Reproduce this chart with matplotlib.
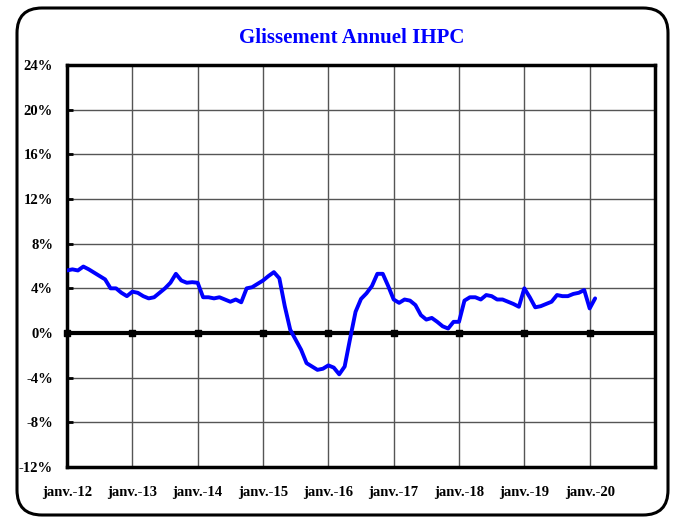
import numpy as np
import matplotlib
matplotlib.use('Agg')
import matplotlib.pyplot as plt
from matplotlib.patches import FancyBboxPatch

# Glissement annuel IHPC, monthly, janv. 2012 -> fevr. 2020 (%)
ihpc_2012 = [5.6, 5.7, 5.6, 5.95, 5.7, 5.4, 5.1, 4.8, 4.0, 4.0, 3.6, 3.3]
ihpc_2013 = [3.7, 3.6, 3.3, 3.1, 3.2, 3.6, 4.0, 4.5, 5.3, 4.7, 4.5, 4.55]
ihpc_2014 = [4.5, 3.2, 3.2, 3.1, 3.2, 3.0, 2.8, 3.0, 2.75, 4.0, 4.1, 4.4]
ihpc_2015 = [4.7, 5.1, 5.45, 4.9, 2.4, 0.3, -0.6, -1.5, -2.7, -3.0, -3.3, -3.2]
ihpc_2016 = [-2.9, -3.1, -3.7, -3.0, -0.5, 1.9, 3.05, 3.55, 4.2, 5.3, 5.3, 4.2]
ihpc_2017 = [3.0, 2.7, 3.0, 2.9, 2.5, 1.6, 1.2, 1.35, 1.0, 0.6, 0.4, 1.0]
ihpc_2018 = [1.0, 2.9, 3.2, 3.2, 3.0, 3.4, 3.3, 3.0, 3.0, 2.8, 2.6, 2.35]
ihpc_2019 = [4.0, 3.2, 2.3, 2.4, 2.6, 2.8, 3.4, 3.3, 3.3, 3.5, 3.6, 3.85]
ihpc_2020 = [2.2, 3.1]

year_labels = ['janv.-12', 'janv.-13', 'janv.-14', 'janv.-15', 'janv.-16',
               'janv.-17', 'janv.-18', 'janv.-19', 'janv.-20']
y_ticks = [-12, -8, -4, 0, 4, 8, 12, 16, 20, 24]

values = np.array(ihpc_2012 + ihpc_2013 + ihpc_2014 + ihpc_2015 + ihpc_2016 +
                  ihpc_2017 + ihpc_2018 + ihpc_2019 + ihpc_2020)
months = np.arange(len(values))
year_pos = np.arange(len(year_labels)) * 12

plt.rcParams['font.family'] = ['Liberation Serif', 'DejaVu Serif']
plt.rcParams['font.weight'] = 'bold'

fig = plt.figure(figsize=(6.73, 5.20), dpi=100)
ax = fig.add_axes([67 / 673, 1 - 467 / 520, (655 - 67) / 673, (467 - 65) / 520])

# rounded outer frame
frame = FancyBboxPatch((0.17, 0.05), 6.51, 5.07,
                       boxstyle='round,pad=0,rounding_size=0.25',
                       transform=fig.dpi_scale_trans, fill=False,
                       edgecolor='black', linewidth=2.2, zorder=0)
fig.patches.append(frame)

ax.plot(months, values, color='#0000FF', linewidth=2.8,
        solid_joinstyle='round', solid_capstyle='round', zorder=4)

ax.axhline(0, color='black', linewidth=3, zorder=3)
ax.scatter(year_pos, np.zeros(len(year_pos)), marker='s', s=14,
           color='black', zorder=3, clip_on=False)

ax.set_xlim(0, 108)
ax.set_ylim(-12, 24)
ax.set_xticks(year_pos)
ax.set_xticklabels(year_labels, fontsize=10.5, fontweight='bold')
ax.set_yticks(y_ticks)
ax.set_yticklabels([f'{t}%' for t in y_ticks], fontsize=10.5, fontweight='bold')
ax.tick_params(axis='x', length=0, pad=14)
ax.tick_params(axis='y', direction='in', length=4, width=2, pad=10)

ax.grid(True, color='#555555', linewidth=1)
ax.set_axisbelow(True)
for sp in ax.spines.values():
    sp.set_linewidth(2.5)
    sp.set_color('black')

fig.text(352 / 673, 1 - 38 / 520, 'Glissement Annuel IHPC', ha='center', va='center',
         color='#0000FF', fontsize=15, fontweight='bold')

fig.savefig('out.png', dpi=100)
